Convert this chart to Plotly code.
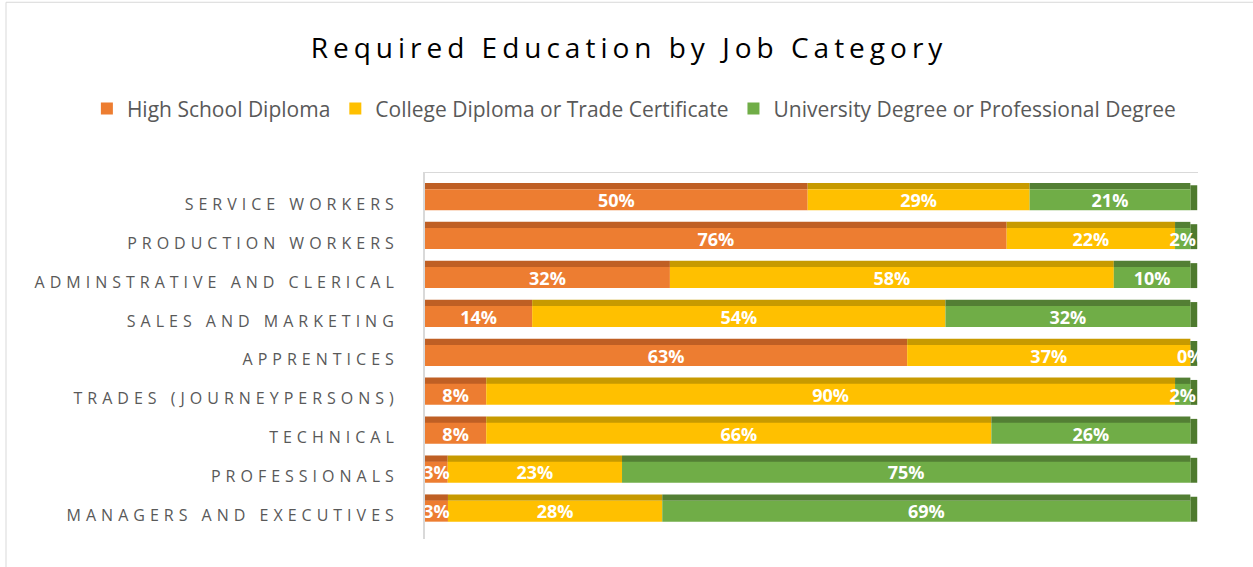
import numpy as np
import plotly.graph_objects as go

categories = [
    "SERVICE WORKERS",
    "PRODUCTION WORKERS",
    "ADMINSTRATIVE AND CLERICAL",
    "SALES AND MARKETING",
    "APPRENTICES",
    "TRADES (JOURNEYPERSONS)",
    "TECHNICAL",
    "PROFESSIONALS",
    "MANAGERS AND EXECUTIVES",
]
series_names = [
    "High School Diploma",
    "College Diploma or Trade Certificate",
    "University Degree or Professional Degree",
]
high_school = [50, 76, 32, 14, 63, 8, 8, 3, 3]
college = [29, 22, 58, 54, 37, 90, 66, 23, 28]
university = [21, 2, 10, 32, 0, 2, 26, 75, 69]

front_colors = ["#ED7D31", "#FFC000", "#70AD47"]
top_colors = ["#BF5F24", "#C79A00", "#537F34"]
side_color = "#4E7A2E"

FONT = "Open Sans"
FRONT_OFF, FRONT_W = -0.385, 0.54
TOP_OFF, TOP_W = -0.545, 0.165
SIDE_DEPTH = 0.9
LABEL_SHIFT = 0.07

vals = np.array([high_school, college, university], dtype=float)
n = vals.shape[1]
totals = vals.sum(axis=0)
shares = vals / totals * 100.0
bases = np.vstack([np.zeros(n), np.cumsum(shares, axis=0)[:-1]])
ypos = np.arange(n)

fig = go.Figure()

# top faces (3D look)
for i in range(3):
    fig.add_trace(go.Bar(
        orientation="h", y=ypos, x=shares[i], base=bases[i],
        offset=TOP_OFF, width=TOP_W,
        marker=dict(color=top_colors[i], line=dict(width=0)),
        showlegend=False, hoverinfo="skip",
    ))

# right side faces
fig.add_trace(go.Bar(
    orientation="h", y=ypos, x=[SIDE_DEPTH] * n, base=shares.sum(axis=0),
    offset=TOP_OFF + 0.06, width=FRONT_W + 0.1,
    marker=dict(color=side_color, line=dict(width=0)),
    showlegend=False, hoverinfo="skip",
))

# front faces
for i in range(3):
    fig.add_trace(go.Bar(
        orientation="h", y=ypos, x=shares[i], base=bases[i],
        offset=FRONT_OFF, width=FRONT_W,
        name=series_names[i],
        marker=dict(color=front_colors[i], line=dict(width=0)),
    ))

# data labels
for i in range(3):
    fig.add_trace(go.Scatter(
        x=bases[i] + shares[i] / 2,
        y=ypos + FRONT_OFF + FRONT_W / 2 + LABEL_SHIFT,
        mode="text", text=[f"{int(v)}%" for v in vals[i]],
        textposition="middle center",
        textfont=dict(family=FONT, size=18, color="white", weight="bold"),
        showlegend=False, hoverinfo="skip",
    ))

fig.update_layout(
    width=1253, height=567, autosize=False,
    barmode="overlay",
    paper_bgcolor="white", plot_bgcolor="white",
    margin=dict(l=425, r=55, t=173, b=28),
    title=dict(
        text="Required Education by Job Category",
        x=0.502, xref="container", xanchor="center",
        y=1 - 48 / 567, yref="container", yanchor="middle",
        font=dict(family=FONT, size=28, color="#000000"),
    ),
    legend=dict(
        orientation="h", x=-0.4374, xanchor="left",
        y=1.175, yanchor="middle",
        font=dict(family=FONT, size=21, color="#595959"),
        traceorder="normal",
    ),
    xaxis=dict(
        range=[0, 101], side="top", showticklabels=False,
        showgrid=False, zeroline=False,
        showline=True, linecolor="#D9D9D9", linewidth=1,
        fixedrange=True,
    ),
    yaxis=dict(
        tickvals=ypos, ticktext=categories,
        range=[n - 0.4, -0.8],
        showgrid=False, zeroline=False, ticks="",
        showline=True, linecolor="#D9D9D9", linewidth=2,
        tickfont=dict(family=FONT, size=16, color="#595959"),
        ticklabelstandoff=21,
        fixedrange=True,
    ),
    shapes=[dict(
        type="rect", xref="paper", yref="paper",
        x0=(6 - 425) / 773, x1=1.2, y0=-0.3, y1=1 + (173 - 2) / 366.6,
        line=dict(color="#D9D9D9", width=1), fillcolor="rgba(0,0,0,0)",
        layer="below",
    )],
)

post = """
document.body.style.margin = '0';
var gd = document.getElementById('{plot_id}');
gd.querySelectorAll('.ytick text').forEach(function(t){t.style.letterSpacing='5px';});
gd.querySelectorAll('.gtitle').forEach(function(t){t.style.letterSpacing='5px';});
"""

fig.write_html("out.html", post_script=post, config={"displayModeBar": False})
